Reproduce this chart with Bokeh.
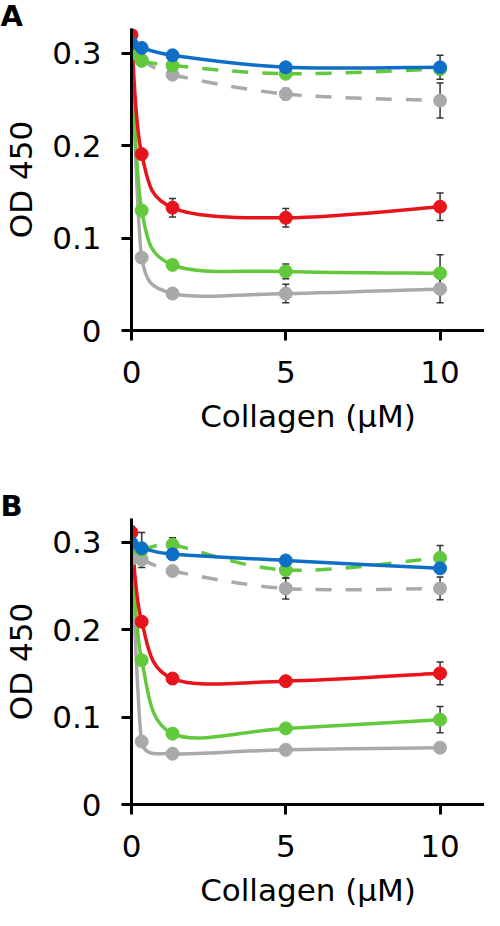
import math
from bokeh.plotting import figure
from bokeh.layouts import column
from bokeh.models import Range1d, FixedTicker, Whisker, TeeHead, ColumnDataSource, Title
from bokeh.embed import file_html
from bokeh.resources import INLINE

# ---------------- data ----------------
collagen = [0, 0.33, 1.33, 5, 10]
x_ticks = [0, 5, 10]
y_ticks = [0, 0.1, 0.2, 0.3]
y_tick_labels = ["0", "0.1", "0.2", "0.3"]

# Panel A
a_gray_solid = [0.300, 0.079, 0.040, 0.040, 0.045]
a_gray_solid_err = [0.002, 0.002, 0.003, 0.010, 0.015]
a_green_solid = [0.300, 0.130, 0.071, 0.064, 0.062]
a_green_solid_err = [0.002, 0.002, 0.003, 0.008, 0.020]
a_red = [0.320, 0.191, 0.133, 0.122, 0.134]
a_red_err = [0.002, 0.002, 0.010, 0.010, 0.015]
a_gray_dash = [0.300, 0.293, 0.277, 0.256, 0.249]
a_gray_dash_err = [0.002, 0.002, 0.003, 0.006, 0.019]
a_green_dash = [0.300, 0.292, 0.287, 0.278, 0.283]
a_green_dash_err = [0.002, 0.002, 0.003, 0.004, 0.004]
a_blue = [0.311, 0.306, 0.298, 0.285, 0.285]
a_blue_err = [0.002, 0.002, 0.003, 0.005, 0.013]

# Panel B
b_gray_solid = [0.285, 0.072, 0.058, 0.0625, 0.065]
b_gray_solid_err = [0.002, 0.002, 0.002, 0.003, 0.003]
b_green_solid = [0.295, 0.165, 0.081, 0.087, 0.097]
b_green_solid_err = [0.002, 0.002, 0.003, 0.004, 0.015]
b_red = [0.311, 0.209, 0.144, 0.141, 0.150]
b_red_err = [0.007, 0.002, 0.004, 0.004, 0.013]
b_gray_dash = [0.281, 0.280, 0.267, 0.247, 0.247]
b_gray_dash_err = [0.002, 0.002, 0.003, 0.012, 0.013]
b_green_dash = [0.294, 0.291, 0.297, 0.268, 0.282]
b_green_dash_err = [0.002, 0.020, 0.008, 0.009, 0.014]
b_blue = [0.299, 0.293, 0.286, 0.279, 0.270]
b_blue_err = [0.002, 0.002, 0.003, 0.003, 0.004]

RED = "#e8141c"
GREEN = "#62c93c"
GRAY = "#a9a9a9"
BLUE = "#0f6fc6"
FONT = "DejaVu Sans"

# approximate pixel scale of the axes (used only to shape the smoothing)
PX_X = 30.86
PX_Y = 910.0


def smooth_segments(xs, ys):
    """Excel-like smoothed line: cubic Bezier per segment, with the
    tangent length limited by the neighbouring segment lengths."""
    n = len(xs)

    def dist(i, j):
        return math.hypot((xs[j] - xs[i]) * PX_X, (ys[j] - ys[i]) * PX_Y)

    tx, ty = [], []
    for i in range(n):
        if i == 0:
            tx.append((xs[1] - xs[0]) / 6.0); ty.append((ys[1] - ys[0]) / 6.0)
        elif i == n - 1:
            tx.append((xs[i] - xs[i - 1]) / 6.0); ty.append((ys[i] - ys[i - 1]) / 6.0)
        else:
            d02 = dist(i - 1, i + 1)
            f = 1.0 / 6.0
            if d02 > 0:
                f = min(f, dist(i - 1, i) / (2 * d02), dist(i, i + 1) / (2 * d02))
            tx.append((xs[i + 1] - xs[i - 1]) * f); ty.append((ys[i + 1] - ys[i - 1]) * f)

    out = dict(x0=[], y0=[], x1=[], y1=[], cx0=[], cy0=[], cx1=[], cy1=[])
    for i in range(n - 1):
        out["x0"].append(xs[i]); out["y0"].append(ys[i])
        out["x1"].append(xs[i + 1]); out["y1"].append(ys[i + 1])
        out["cx0"].append(xs[i] + tx[i]); out["cy0"].append(ys[i] + ty[i])
        out["cx1"].append(xs[i + 1] - tx[i + 1]); out["cy1"].append(ys[i + 1] - ty[i + 1])
    return out


def make_panel(letter, series, height, border_top, border_bottom, title_standoff):
    p = figure(width=484, height=height, x_range=Range1d(0, 11.44), y_range=Range1d(0, 0.327),
               output_backend="svg", toolbar_location=None,
               min_border_left=131, min_border_right=0,
               min_border_top=border_top, min_border_bottom=border_bottom)
    p.outline_line_color = None
    p.xgrid.visible = False
    p.ygrid.visible = False
    p.background_fill_color = "white"
    p.border_fill_color = "white"

    t = Title(text=letter, align="left", offset=-131, standoff=title_standoff,
              text_font=FONT, text_font_style="bold", text_font_size="29px",
              text_color="black")
    p.add_layout(t, "above")

    for ax in (p.xaxis[0], p.yaxis[0]):
        ax.axis_line_width = 3
        ax.axis_line_color = "black"
        ax.major_tick_line_width = 3
        ax.major_tick_line_color = "black"
        ax.major_tick_in = 0
        ax.major_tick_out = 10
        ax.minor_tick_line_color = None
        ax.major_label_text_font = FONT
        ax.major_label_text_font_size = "31px"
        ax.major_label_text_color = "black"
        ax.axis_label_text_font = FONT
        ax.axis_label_text_font_size = "31px"
        ax.axis_label_text_font_style = "normal"
        ax.axis_label_text_color = "black"

    p.xaxis.ticker = FixedTicker(ticks=x_ticks)
    p.yaxis.ticker = FixedTicker(ticks=y_ticks)
    p.yaxis.major_label_overrides = {t: s for t, s in zip(y_ticks, y_tick_labels)}
    p.xaxis.axis_label = "Collagen (µM)"
    p.yaxis.axis_label = "OD 450"
    p.xaxis.major_label_standoff = 20
    p.yaxis.major_label_standoff = 20
    p.xaxis.axis_label_standoff = 12
    p.yaxis.axis_label_standoff = 10

    for ys, errs, color, dash in series:
        lower = [v - e for v, e in zip(ys, errs)]
        upper = [v + e for v, e in zip(ys, errs)]
        src = ColumnDataSource(dict(x=collagen, lower=lower, upper=upper))
        w = Whisker(source=src, base="x", lower="lower", upper="upper",
                    line_color="#333333", line_width=1.5,
                    upper_head=TeeHead(size=7, line_color="#333333", line_width=1.5),
                    lower_head=TeeHead(size=7, line_color="#333333", line_width=1.5))
        p.add_layout(w)

    for ys, errs, color, dash in series:
        seg = smooth_segments(collagen, ys)
        kw = dict(line_color=color, line_width=3.5)
        if dash:
            kw["line_dash"] = "16 14"
        p.bezier(source=ColumnDataSource(seg), x0="x0", y0="y0", x1="x1", y1="y1",
                 cx0="cx0", cy0="cy0", cx1="cx1", cy1="cy1", **kw)
        p.scatter(collagen, ys, size=13, fill_color=color, line_color=color)
    return p


series_a = [
    (a_gray_solid, a_gray_solid_err, GRAY, False),
    (a_green_solid, a_green_solid_err, GREEN, False),
    (a_red, a_red_err, RED, False),
    (a_gray_dash, a_gray_dash_err, GRAY, True),
    (a_green_dash, a_green_dash_err, GREEN, True),
    (a_blue, a_blue_err, BLUE, False),
]
series_b = [
    (b_gray_solid, b_gray_solid_err, GRAY, False),
    (b_green_solid, b_green_solid_err, GREEN, False),
    (b_red, b_red_err, RED, False),
    (b_gray_dash, b_gray_dash_err, GRAY, True),
    (b_green_dash, b_green_dash_err, GREEN, True),
    (b_blue, b_blue_err, BLUE, False),
]

pa = make_panel("A", series_a, 484, 27, 154, -8)
pb = make_panel("B", series_b, 426, 34, 0, -8)

layout = column(pa, pb, spacing=0)
open("out.html", "w").write(file_html(layout, INLINE))
